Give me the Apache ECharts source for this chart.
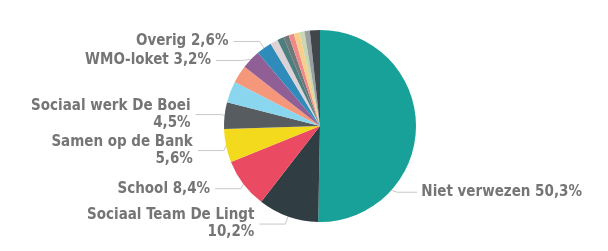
<!DOCTYPE html>
<html>
<head>
<meta charset="utf-8">
<script src="https://cdn.jsdelivr.net/npm/echarts@6/dist/echarts.min.js"></script>
<style>
  html, body { margin: 0; padding: 0; background: #fff; }
  #chart { width: 608px; height: 251px; }
</style>
</head>
<body>
<div id="chart"></div>
<script>
// categories, clockwise from 12 o'clock ('' = no label shown)
var names = ['Niet verwezen', 'Sociaal Team De Lingt', 'School', 'Samen op de Bank', 'Sociaal werk De Boei',
  '', '', 'WMO-loket', 'Overig', '', '', '', '', '', '', '', ''];
var values = [50.3, 10.2, 8.4, 5.6, 4.5, 3.6, 3.0, 3.2, 2.6, 1.3, 1.1, 0.9, 0.9, 1.0, 0.8, 0.9, 1.7];
// labels that break onto a second line
var twoLine = ['Sociaal Team De Lingt', 'Samen op de Bank', 'Sociaal werk De Boei'];

var colors = ['#17a198', '#303d43', '#ea4a62', '#f3da1c', '#565c5f', '#8ad6ee', '#f5977b', '#8f5f95',
  '#2f8bba', '#ddd3d6', '#4b7e7c', '#6f7779', '#f08a88', '#f6cf8a', '#c9d8b4', '#9aa0a2', '#40464a'];

var cx = 320, cy = 126, r = 96;

var chart = echarts.init(document.getElementById('chart'));

var data = values.map(function (v, i) {
  return {
    name: names[i] || ('_' + i),
    value: v,
    label: { show: !!names[i] },
    labelLine: { show: !!names[i] }
  };
});

chart.setOption({
  animation: false,
  color: colors,
  series: [{
    type: 'pie',
    center: [cx, cy],
    radius: r,
    startAngle: 90,
    clockwise: true,
    data: data,
    itemStyle: { borderWidth: 0 },
    label: {
      color: '#757575',
      fontFamily: 'DejaVu Sans Condensed',
      fontWeight: 'bold',
      fontSize: 15,
      lineHeight: 17,
      overflow: 'none',
      formatter: function (p) {
        var txt = String(p.value).replace('.', ',') + '%';
        return p.name + (twoLine.indexOf(p.name) >= 0 ? '\n' : ' ') + txt;
      }
    },
    labelLine: {
      length: 8,
      length2: 26,
      lineStyle: { color: '#c8c8c8', width: 1 }
    },
    // the big slice has its label pulled down-right, as in the original
    labelLayout: function (p) {
      if (p.dataIndex !== 0) return {};
      var a = -42 * Math.PI / 180;
      var ex = cx + r * Math.cos(a), ey = cy - r * Math.sin(a);
      return {
        x: ex + 30, y: ey + 2,
        align: 'left', verticalAlign: 'middle',
        labelLinePoints: [[ex, ey], [ex + 6, ey + 2], [ex + 26, ey + 2]]
      };
    }
  }]
});
</script>
</body>
</html>
